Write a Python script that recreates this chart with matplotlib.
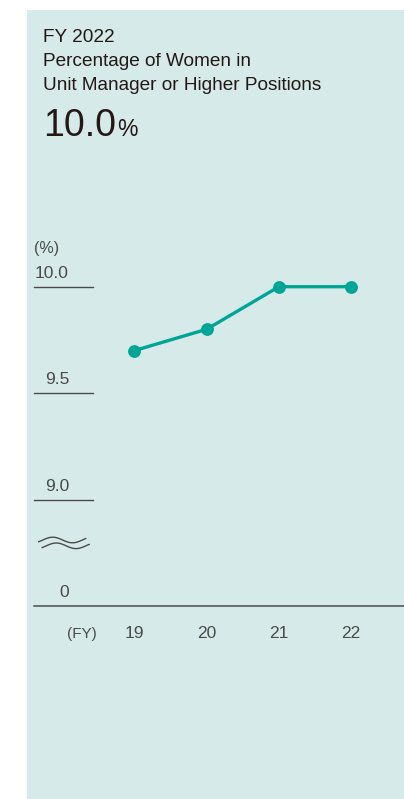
import numpy as np
import matplotlib
matplotlib.use("Agg")
import matplotlib.pyplot as plt
import matplotlib.patches as mpatches
import matplotlib.transforms as mtransforms

# data
years = ["19", "20", "21", "22"]
ratio = [9.7, 9.8, 10.0, 10.0]
y_ticks = [10.0, 9.5, 9.0]
y_tick_labels = ["10.0", "9.5", "9.0"]
break_base = 8.5          # where the "0" baseline sits on the broken axis
title_lines = ["FY 2022", "Percentage of Women in", "Unit Manager or Higher Positions"]
headline_value = "10.0"

BG = "#D6EBE9"
TEAL = "#00A596"
TEXT = "#231815"
GREY = "#4A4A4A"
W, H = 404, 799

plt.rcParams["font.family"] = ["Liberation Sans", "DejaVu Sans"]

fig = plt.figure(figsize=(W / 100, H / 100), dpi=100)
fig.patch.set_facecolor("white")
fig.patches.append(
    mpatches.Rectangle((27 / W, 0), 1 - 27 / W, 1 - 10 / H,
                       transform=fig.transFigure, facecolor=BG, edgecolor="none", zorder=-5)
)

ax = fig.add_axes([0, 0, 1, 1])
ax.set_facecolor("none")
ax.axis("off")
step_px = 72.3
x0_px = 134.3
ax.set_xlim(-x0_px / step_px, (W - x0_px) / step_px)
unit_px = 213.0
ax.set_ylim(9.0 - (H - 499.7) / unit_px, 10.0 + 286.7 / unit_px)

# title block
for i, line in enumerate(title_lines):
    fig.text(43 / W, 1 - (41.5 + 24.5 * i) / H, line, fontsize=13.7,
             color=TEXT, ha="left", va="baseline")
big = fig.text(43 / W, 1 - 136.5 / H, headline_value, fontsize=27, color=TEXT,
               ha="left", va="baseline")
fig.canvas.draw()
bb = big.get_window_extent()
fig.text((bb.x1 + 1) / W, 1 - 136.5 / H, "%", fontsize=16.5, color=TEXT,
         ha="left", va="baseline")

# y guide lines and labels
ytrans = ax.get_yaxis_transform()
label_trans = mtransforms.offset_copy(ytrans, fig=fig, x=0, y=9, units="dots")
for v, lab in zip(y_ticks, y_tick_labels):
    ax.axhline(v, xmin=34 / W, xmax=93 / W, color=GREY, lw=1.0)
    ax.text(69 / W, v, lab, transform=label_trans, ha="right", va="baseline",
            fontsize=12.5, color=GREY)
ax.axhline(break_base, xmin=34 / W, xmax=1, color=GREY, lw=1.1)
ax.text(69 / W, break_base, "0", transform=label_trans, ha="right", va="baseline",
        fontsize=12.5, color=GREY)
fig.text(34 / W, 1 - 252.5 / H, "(%)", fontsize=11.5, color=GREY, ha="left", va="baseline")

# break mark (two small waves)
t = np.linspace(-0.21 * np.pi, 2.17 * np.pi, 80)
for dx, dy in [(0, 0), (3.5, 5.8)]:
    xs = (38.7 + dx + (t - t[0]) / (t[-1] - t[0]) * 47) / W
    ys = 1 - (540 + dy - 2.8 * np.sin(t)) / H
    fig.add_artist(plt.Line2D(xs, ys, color=GREY, lw=1.0, transform=fig.transFigure))

# series
xs = np.arange(len(years))
ax.plot(xs, ratio, color=TEAL, lw=2.4, marker="o", markersize=8.2,
        solid_capstyle="round", zorder=3)

# x labels
xtrans = ax.get_xaxis_transform()
xl_y = 1 - 638 / H
for x, yr in zip(xs, years):
    ax.text(x, xl_y, yr, transform=xtrans, ha="center", va="baseline",
            fontsize=12.5, color=GREY)
fig.text(82 / W, xl_y, "(FY)", fontsize=11, color=GREY, ha="center", va="baseline")

fig.savefig("out.png", dpi=100, facecolor="white")
